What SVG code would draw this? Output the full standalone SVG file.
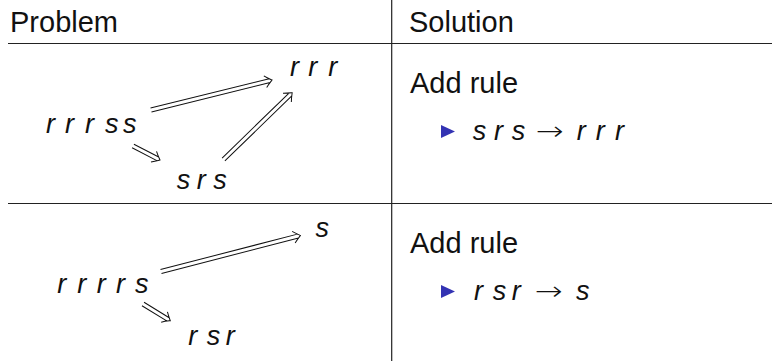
<svg xmlns="http://www.w3.org/2000/svg" width="772" height="361" viewBox="0 0 772 361">
<style>
.hdr{font-family:"Liberation Sans",Arial,sans-serif;font-size:29px;fill:#111}
.m{font-family:"Liberation Sans",Arial,sans-serif;font-size:27px;font-style:italic;fill:#111}
.ar{font-family:"DejaVu Sans",sans-serif;font-size:26px;font-weight:200;fill:#111}
.rule{stroke:#222;stroke-width:1.2;fill:none}
.dbl{stroke:#111;stroke-width:1;fill:none}
.bul{fill:#3333b3}
</style>
<rect width="772" height="361" fill="#fff"/>
<g id="table">
<line class="rule" x1="8" y1="43.5" x2="772" y2="43.5"/>
<line class="rule" x1="8" y1="203.5" x2="772" y2="203.5"/>
<line class="rule" x1="391.7" y1="0" x2="391.7" y2="361"/>
</g>
<g id="hdr-problem"><text class="hdr" x="10" y="32">Problem</text></g>
<g id="hdr-solution"><text class="hdr" x="409" y="32">Solution</text></g>
<g id="n-rrrss"><text class="m" x="46 55 65 75 85 95 105 114 123" y="132.7">r r r s s</text></g>
<g id="n-rrr"><text class="m" x="290 299 308.3 318 328.3" y="76">r r r</text></g>
<g id="n-srs"><text class="m" x="176.7 187 196.7 205 213.3" y="189">s r s</text></g>
<g id="n-rrrrs"><text class="m" x="57.3 67 77.3 87 96.7 106 116 125 135" y="293">r r r r s</text></g>
<g id="n-s"><text class="m" x="315.5" y="237">s</text></g>
<g id="n-rsr"><text class="m" x="188.3 197 206.7 216 225.7" y="345">r s r</text></g>
<g id="sol1">
<text class="hdr" x="410" y="93">Add rule</text>
<polygon class="bul" points="441,125 441,138 455,131.5"/>
<text class="m" x="472.7 483 494 503 511.7" y="140">s r s</text>
<text class="ar" x="536" y="140" textLength="28" lengthAdjust="spacingAndGlyphs">→</text>
<text class="m" x="576.7 586 595.7 605 615" y="140">r r r</text>
</g>
<g id="sol2">
<text class="hdr" x="410" y="253">Add rule</text>
<polygon class="bul" points="441,285 441,298 455,291.5"/>
<text class="m" x="474 483 492.7 502 511.7" y="300">r s r</text>
<text class="ar" x="535" y="300" textLength="28" lengthAdjust="spacingAndGlyphs">→</text>
<text class="m" x="576" y="300">s</text>
</g>
<g id="connectors">
<g transform="translate(151,110) rotate(-13.9)">
<path class="dbl" d="M0,-2 H122.2 M0,2 H122.2 M117.7,-6 C120.7,-3 123.7,-0.8 124.7,0 C123.7,0.8 120.7,3 117.7,6"/>
</g>
<g transform="translate(133,146) rotate(27.4)">
<path class="dbl" d="M0,-2 H27.9 M0,2 H27.9 M23.4,-6 C26.4,-3 29.4,-0.8 30.4,0 C29.4,0.8 26.4,3 23.4,6"/>
</g>
<g transform="translate(223.5,159.5) rotate(-44.2)">
<path class="dbl" d="M0,-2 H93.3 M0,2 H93.3 M88.8,-6 C91.8,-3 94.8,-0.8 95.8,0 C94.8,0.8 91.8,3 88.8,6"/>
</g>
<g transform="translate(161,271.5) rotate(-14.5)">
<path class="dbl" d="M0,-2 H141.5 M0,2 H141.5 M137,-6 C140,-3 143,-0.8 144,0 C143,0.8 140,3 137,6"/>
</g>
<g transform="translate(143,304) rotate(31.5)">
<path class="dbl" d="M0,-2 H29.5 M0,2 H29.5 M25,-6 C28,-3 31,-0.8 32,0 C31,0.8 28,3 25,6"/>
</g>
</g>
</svg>
